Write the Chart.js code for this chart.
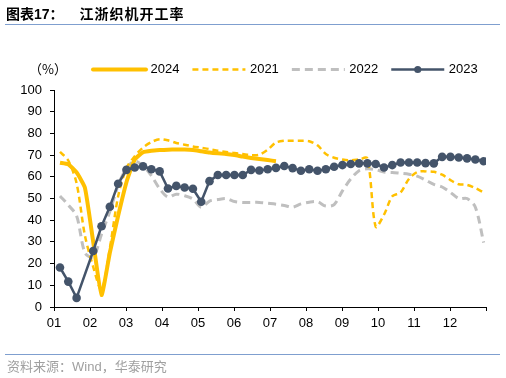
<!DOCTYPE html>
<html>
<head>
<meta charset="utf-8">
<script src="https://cdn.jsdelivr.net/npm/chart.js@4"></script>
<style>
html,body{margin:0;padding:0;background:#fff;}
#wrap{position:relative;width:506px;height:378px;overflow:hidden;background:#fff;}
#c{position:absolute;left:0;top:0;}
#title{position:absolute;left:6px;top:3px;font-family:"Liberation Sans","Noto Sans CJK SC",sans-serif;font-size:14px;font-weight:bold;color:#000;white-space:nowrap;line-height:20px;}
#title .t2{margin-left:16px;letter-spacing:1px;font-family:"Noto Sans CJK SC",sans-serif;}
.rule{position:absolute;left:5px;width:495px;height:1px;background:#7f9fcf;}
#src{position:absolute;left:7px;top:357px;font-family:"Noto Sans CJK SC","Liberation Sans",sans-serif;font-size:13px;color:#a0a0a0;white-space:nowrap;line-height:18px;}
#src .w{font-family:"Liberation Sans",sans-serif;}
</style>
</head>
<body>
<div id="wrap">
  <canvas id="c" width="506" height="378"></canvas>
  <div id="title"><span>图表17：</span><span class="t2">江浙织机开工率</span></div>
  <div class="rule" style="top:24px;"></div>
  <div class="rule" style="top:354px;"></div>
  <div id="src">资料来源：<span class="w">Wind</span>，华泰研究</div>
</div>
<script>
// ---- data (weekly readings, week index 0..51 within the year) ----
const monthLabels = ['01','02','03','04','05','06','07','08','09','10','11','12'];
const seriesNames = ['2024','2021','2022','2023'];

const values2024 = [66.5, 65.8, 62, 55, 30, 5.5, 25, 42, 57.5, 68, 71.3, 72, 72.3, 72.5, 72.6, 72.6,
  72.4, 71.8, 71.2, 70.8, 70.5, 70, 69.3, 68.7, 68.2, 67.7, 67.2];

const values2021 = [71.5, 67.5, 57, 33, 18.5, 8, 27, 51, 64, 69.5, 73.5, 76, 77.3, 76.8, 75.6, 74.8,
  74, 73.4, 72.8, 72, 71.4, 71, 70.5, 70, 70.2, 72.5, 75.8, 76.6, 76.6, 76.6, 76.4, 74.5,
  70.5, 68.8, 68, 67.6, 68, 68.5, 37, 42.5, 51, 52.8, 59, 62.2, 62.5, 62.3, 61, 58.5,
  56.6, 56.3, 54.8, 52.8];

const values2022 = [51.2, 47, 42, 25, 23, 33.5, 44, 56, 64, 67.2, 65, 60.5, 54.5, 50.7, 52, 51.3,
  49.8, 46, 48.8, 49.5, 50, 48.6, 48.2, 48.2, 48.2, 47.8, 47.4, 46.8, 46, 47.5, 48.3, 48.5,
  46.5, 47.2, 53.5, 59, 62.8, 63.7, 63.3, 62.2, 62, 61.6, 61.2, 60.3, 58.5, 56.5, 55.3, 52.8,
  50, 50, 46, 29.7];

const values2023 = [18.2, 11.7, 4.2, null, 25.8, 37.2, 46.2, 56.8, 63.2, 64.3, 64.8, 63.5, 62.5, 54.6, 55.8, 55.1,
  54.5, 48.5, 58, 60.8, 60.8, 60.8, 60.8, 63.2, 62.9, 63.5, 64.1, 65, 64, 62.8, 63.5, 62.8,
  63.5, 64.6, 65.4, 65.9, 66.2, 66.2, 65.9, 64.3, 65.4, 66.6, 66.6, 66.6, 66.3, 66.2, 69.2, 69.2,
  68.9, 68.5, 68, 67.2];

// week index -> position in months on the x axis
const weekPos = i => (i + 0.72) * 12 / 52;
const toPoints = arr => arr.map((y, i) => ({ x: weekPos(i), y }));

const GOLD = '#FFC000', GREY = '#BFBFBF', NAVY = '#44546A';

const legendPlugin = {
  id: 'customLegend',
  afterDraw(chart) {
    const ctx = chart.ctx;
    const y = 69.5;
    ctx.save();
    ctx.textBaseline = 'middle';
    ctx.fillStyle = '#000';
    ctx.font = '13px "Noto Sans CJK SC"';
    ctx.fillText('（%）', 29, y);
    ctx.font = '13px "Liberation Sans"';
    let x = 93;
    chart.data.datasets.forEach(ds => {
      ctx.save();
      ctx.strokeStyle = ds.borderColor;
      ctx.lineWidth = ds.borderWidth;
      ctx.setLineDash(ds.borderDash || []);
      ctx.lineCap = ds.legendCap || 'butt';
      ctx.beginPath();
      ctx.moveTo(x, y);
      ctx.lineTo(x + 53, y);
      ctx.stroke();
      if (ds.pointRadius > 0) {
        ctx.setLineDash([]);
        ctx.fillStyle = ds.pointBackgroundColor;
        ctx.beginPath();
        ctx.arc(x + 26.5, y, 3.6, 0, Math.PI * 2);
        ctx.fill();
      }
      ctx.restore();
      ctx.fillStyle = '#000';
      ctx.fillText(ds.label, x + 57.5, y);
      x += 57.5 + ctx.measureText(ds.label).width + 13;
    });
    ctx.restore();
  }
};

new Chart(document.getElementById('c'), {
  type: 'line',
  data: {
    datasets: [
      { label: seriesNames[0], data: toPoints(values2024), borderColor: GOLD, backgroundColor: GOLD,
        borderWidth: 4, pointRadius: 0, tension: 0.15, order: 1, legendCap: 'round', borderJoinStyle: 'round' },
      { label: seriesNames[1], data: toPoints(values2021), borderColor: GOLD, backgroundColor: GOLD,
        borderWidth: 2.5, borderDash: [6, 4], pointRadius: 0, tension: 0.3, order: 2 },
      { label: seriesNames[2], data: toPoints(values2022), borderColor: GREY, backgroundColor: GREY,
        borderWidth: 3, borderDash: [8, 5], pointRadius: 0, tension: 0.3, order: 3 },
      { label: seriesNames[3], data: toPoints(values2023), borderColor: NAVY, backgroundColor: NAVY,
        borderWidth: 2.5, pointRadius: 4.3, pointBackgroundColor: NAVY, pointBorderColor: NAVY,
        pointBorderWidth: 0, tension: 0, spanGaps: true, order: 0 }
    ]
  },
  options: {
    responsive: false,
    devicePixelRatio: 1,
    animation: false,
    layout: { padding: { left: 10, right: 20, top: 90, bottom: 41 } },
    plugins: { legend: { display: false }, title: { display: false }, tooltip: { enabled: false } },
    elements: { line: { fill: false } },
    scales: {
      x: {
        type: 'linear', min: 0, max: 12,
        afterFit: s => { s.height = 30; },
        afterBuildTicks: s => { s.ticks = Array.from({ length: 13 }, (_, m) => ({ value: m })); },
        ticks: {
          autoSkip: false, maxRotation: 0, padding: 5, color: '#000',
          font: { family: 'Liberation Sans', size: 13 },
          callback: v => (v < 12 ? monthLabels[v] : '')
        },
        grid: { display: true, drawOnChartArea: false, drawTicks: true, tickLength: 4, color: '#000' },
        border: { display: true, color: '#000', width: 1 }
      },
      y: {
        min: 0, max: 100,
        afterFit: s => { s.width = 44; },
        ticks: { stepSize: 10, padding: 8, color: '#000', font: { family: 'Liberation Sans', size: 13 } },
        grid: { display: true, drawOnChartArea: false, drawTicks: true, tickLength: 4, color: '#000' },
        border: { display: true, color: '#000', width: 1 }
      }
    }
  },
  plugins: [legendPlugin]
});
</script>
</body>
</html>
